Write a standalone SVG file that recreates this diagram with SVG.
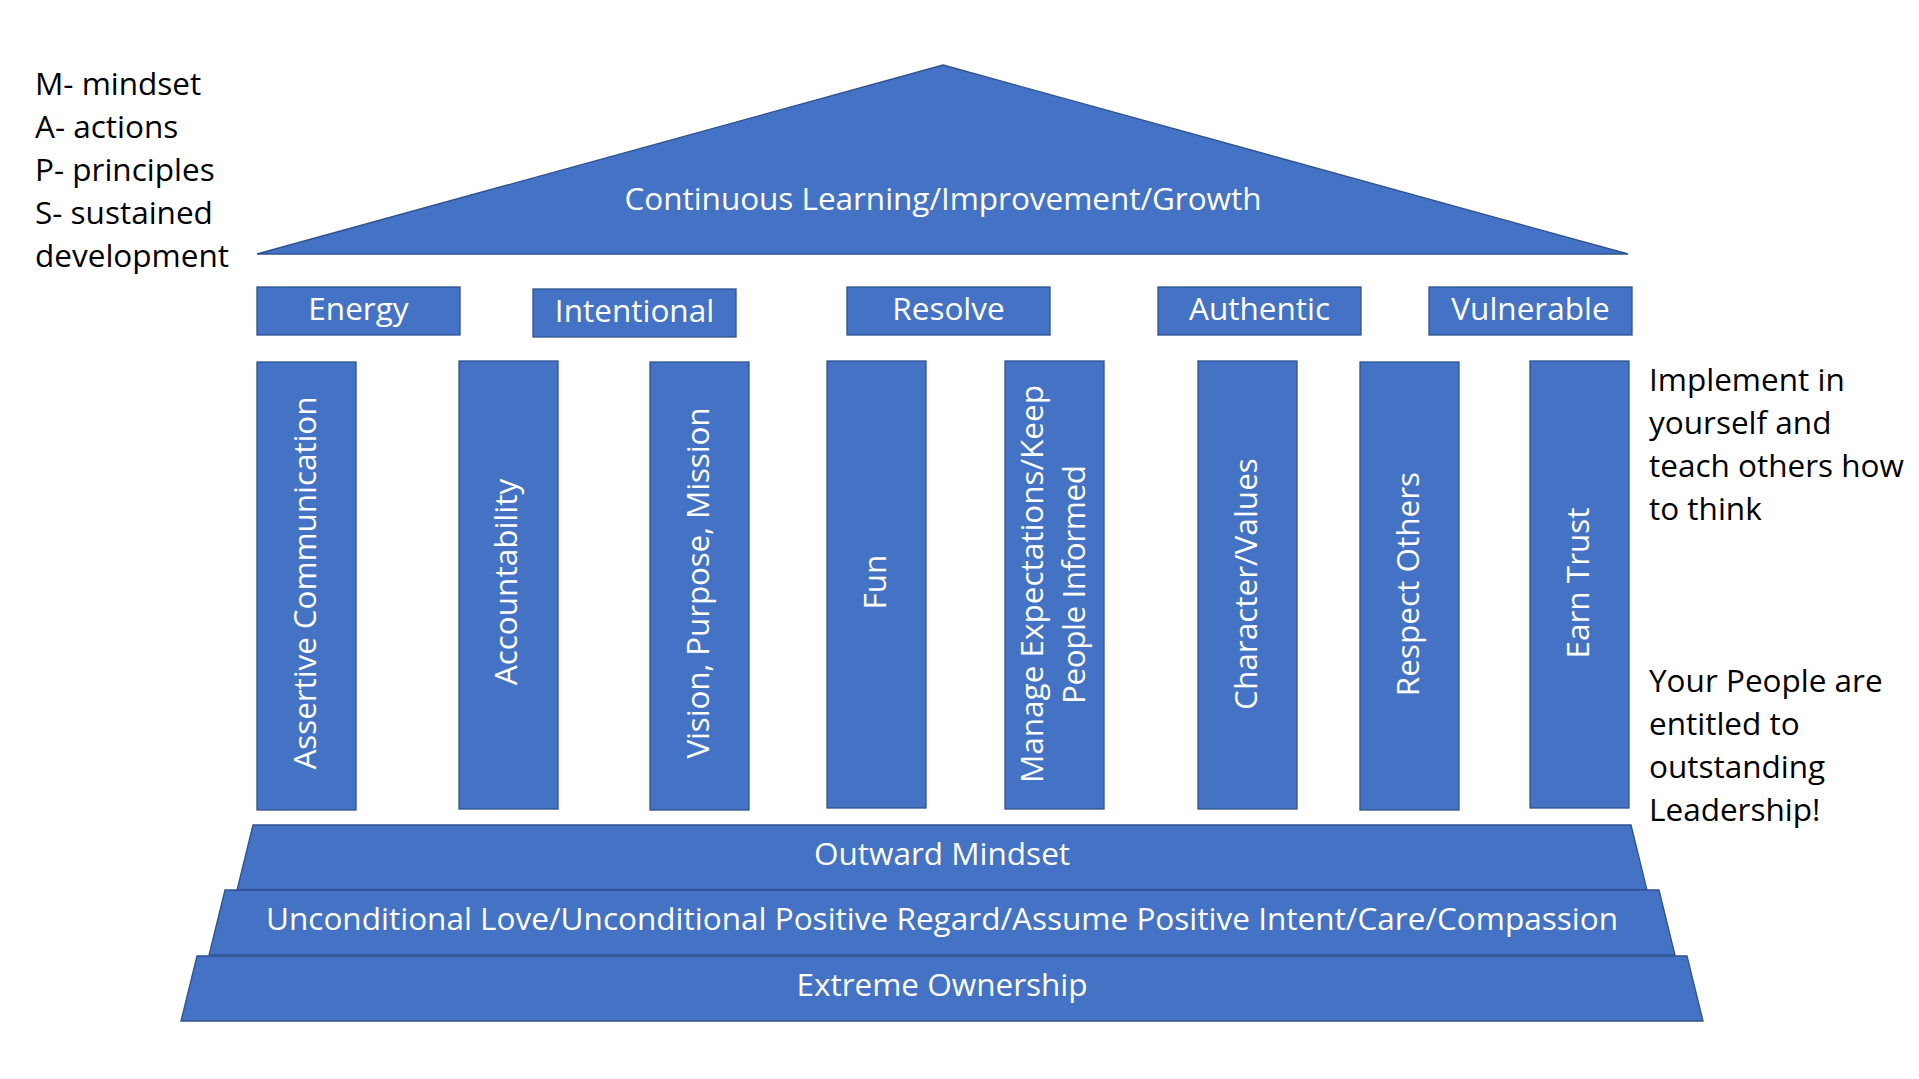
<svg xmlns="http://www.w3.org/2000/svg" width="1919" height="1079" viewBox="0 0 1919 1079">
<style>
.shape{fill:#4472C4;stroke:#2F528F;stroke-width:1.3}
.wt{fill:#FFFFFF;font-family:"Open Sans","Noto Sans","DejaVu Sans",sans-serif;font-size:31.5px}
.mid{text-anchor:middle}
.bk{fill:#000000;font-family:"Open Sans","Noto Sans","DejaVu Sans",sans-serif;font-size:31.5px}
</style>
<rect x="0" y="0" width="1919" height="1079" fill="#FFFFFF"/>

<g id="legend">
<text class="bk" x="35" y="95">M- mindset</text>
<text class="bk" x="35" y="138">A- actions</text>
<text class="bk" x="35" y="181">P- principles</text>
<text class="bk" x="35" y="224">S- sustained</text>
<text class="bk" x="35" y="267">development</text>
</g>

<g id="roof">
<polygon class="shape" points="943,65 1628,254 257,254"/>
<text class="wt mid" x="943" y="210" textLength="637">Continuous Learning/Improvement/Growth</text>
</g>

<g id="energy">
<rect class="shape" x="257" y="287" width="203" height="48"/>
<text class="wt mid" x="358.5" y="320">Energy</text>
</g>
<g id="intentional">
<rect class="shape" x="533" y="289" width="203" height="48"/>
<text class="wt mid" x="634.5" y="322">Intentional</text>
</g>
<g id="resolve">
<rect class="shape" x="847" y="287" width="203" height="48"/>
<text class="wt mid" x="948.5" y="320">Resolve</text>
</g>
<g id="authentic">
<rect class="shape" x="1158" y="287" width="203" height="48"/>
<text class="wt mid" x="1259.5" y="320">Authentic</text>
</g>
<g id="vulnerable">
<rect class="shape" x="1429" y="287" width="203" height="48"/>
<text class="wt mid" x="1530.5" y="320">Vulnerable</text>
</g>

<g id="pillar-assertive-communication">
<rect class="shape" x="257" y="362" width="99" height="448"/>
<text class="wt mid" x="315.5" y="583" transform="rotate(-90 315.5 583)" textLength="373">Assertive Communication</text>
</g>
<g id="pillar-accountability">
<rect class="shape" x="459" y="361" width="99" height="448"/>
<text class="wt mid" x="517" y="582" transform="rotate(-90 517 582)">Accountability</text>
</g>
<g id="pillar-vision">
<rect class="shape" x="650" y="362" width="99" height="448"/>
<text class="wt mid" x="708.5" y="583" transform="rotate(-90 708.5 583)" textLength="351">Vision, Purpose, Mission</text>
</g>
<g id="pillar-fun">
<rect class="shape" x="827" y="361" width="99" height="447"/>
<text class="wt mid" x="885.5" y="582" transform="rotate(-90 885.5 582)">Fun</text>
</g>
<g id="pillar-manage-expectations">
<rect class="shape" x="1005" y="361" width="99" height="448"/>
<text class="wt mid" x="1042.5" y="584" transform="rotate(-90 1042.5 584)" textLength="398">Manage Expectations/Keep</text>
<text class="wt mid" x="1084.5" y="584.5" transform="rotate(-90 1084.5 584.5)" textLength="239">People Informed</text>
</g>
<g id="pillar-character-values">
<rect class="shape" x="1198" y="361" width="99" height="448"/>
<text class="wt mid" x="1256.5" y="584" transform="rotate(-90 1256.5 584)">Character/Values</text>
</g>
<g id="pillar-respect-others">
<rect class="shape" x="1360" y="362" width="99" height="448"/>
<text class="wt mid" x="1418.5" y="584" transform="rotate(-90 1418.5 584)">Respect Others</text>
</g>
<g id="pillar-earn-trust">
<rect class="shape" x="1530" y="361" width="99" height="447"/>
<text class="wt mid" x="1588.5" y="583" transform="rotate(-90 1588.5 583)">Earn Trust</text>
</g>

<g id="notes">
<text class="bk" x="1649" y="391">Implement in</text>
<text class="bk" x="1649" y="434">yourself and</text>
<text class="bk" x="1649" y="477">teach others how</text>
<text class="bk" x="1649" y="520">to think</text>
<text class="bk" x="1649" y="692">Your People are</text>
<text class="bk" x="1649" y="735">entitled to</text>
<text class="bk" x="1649" y="778">outstanding</text>
<text class="bk" x="1649" y="821">Leadership!</text>
</g>

<g id="outward-mindset">
<polygon class="shape" points="253,825 1631,825 1647,890 237,890"/>
<text class="wt mid" x="942" y="865">Outward Mindset</text>
</g>
<g id="unconditional-love">
<polygon class="shape" points="225,890 1659,890 1675,955 209,955"/>
<text class="wt mid" x="942" y="930" textLength="1352">Unconditional Love/Unconditional Positive Regard/Assume Positive Intent/Care/Compassion</text>
</g>
<g id="extreme-ownership">
<polygon class="shape" points="197,956 1687,956 1703,1021 181,1021"/>
<text class="wt mid" x="942" y="996">Extreme Ownership</text>
</g>
</svg>
